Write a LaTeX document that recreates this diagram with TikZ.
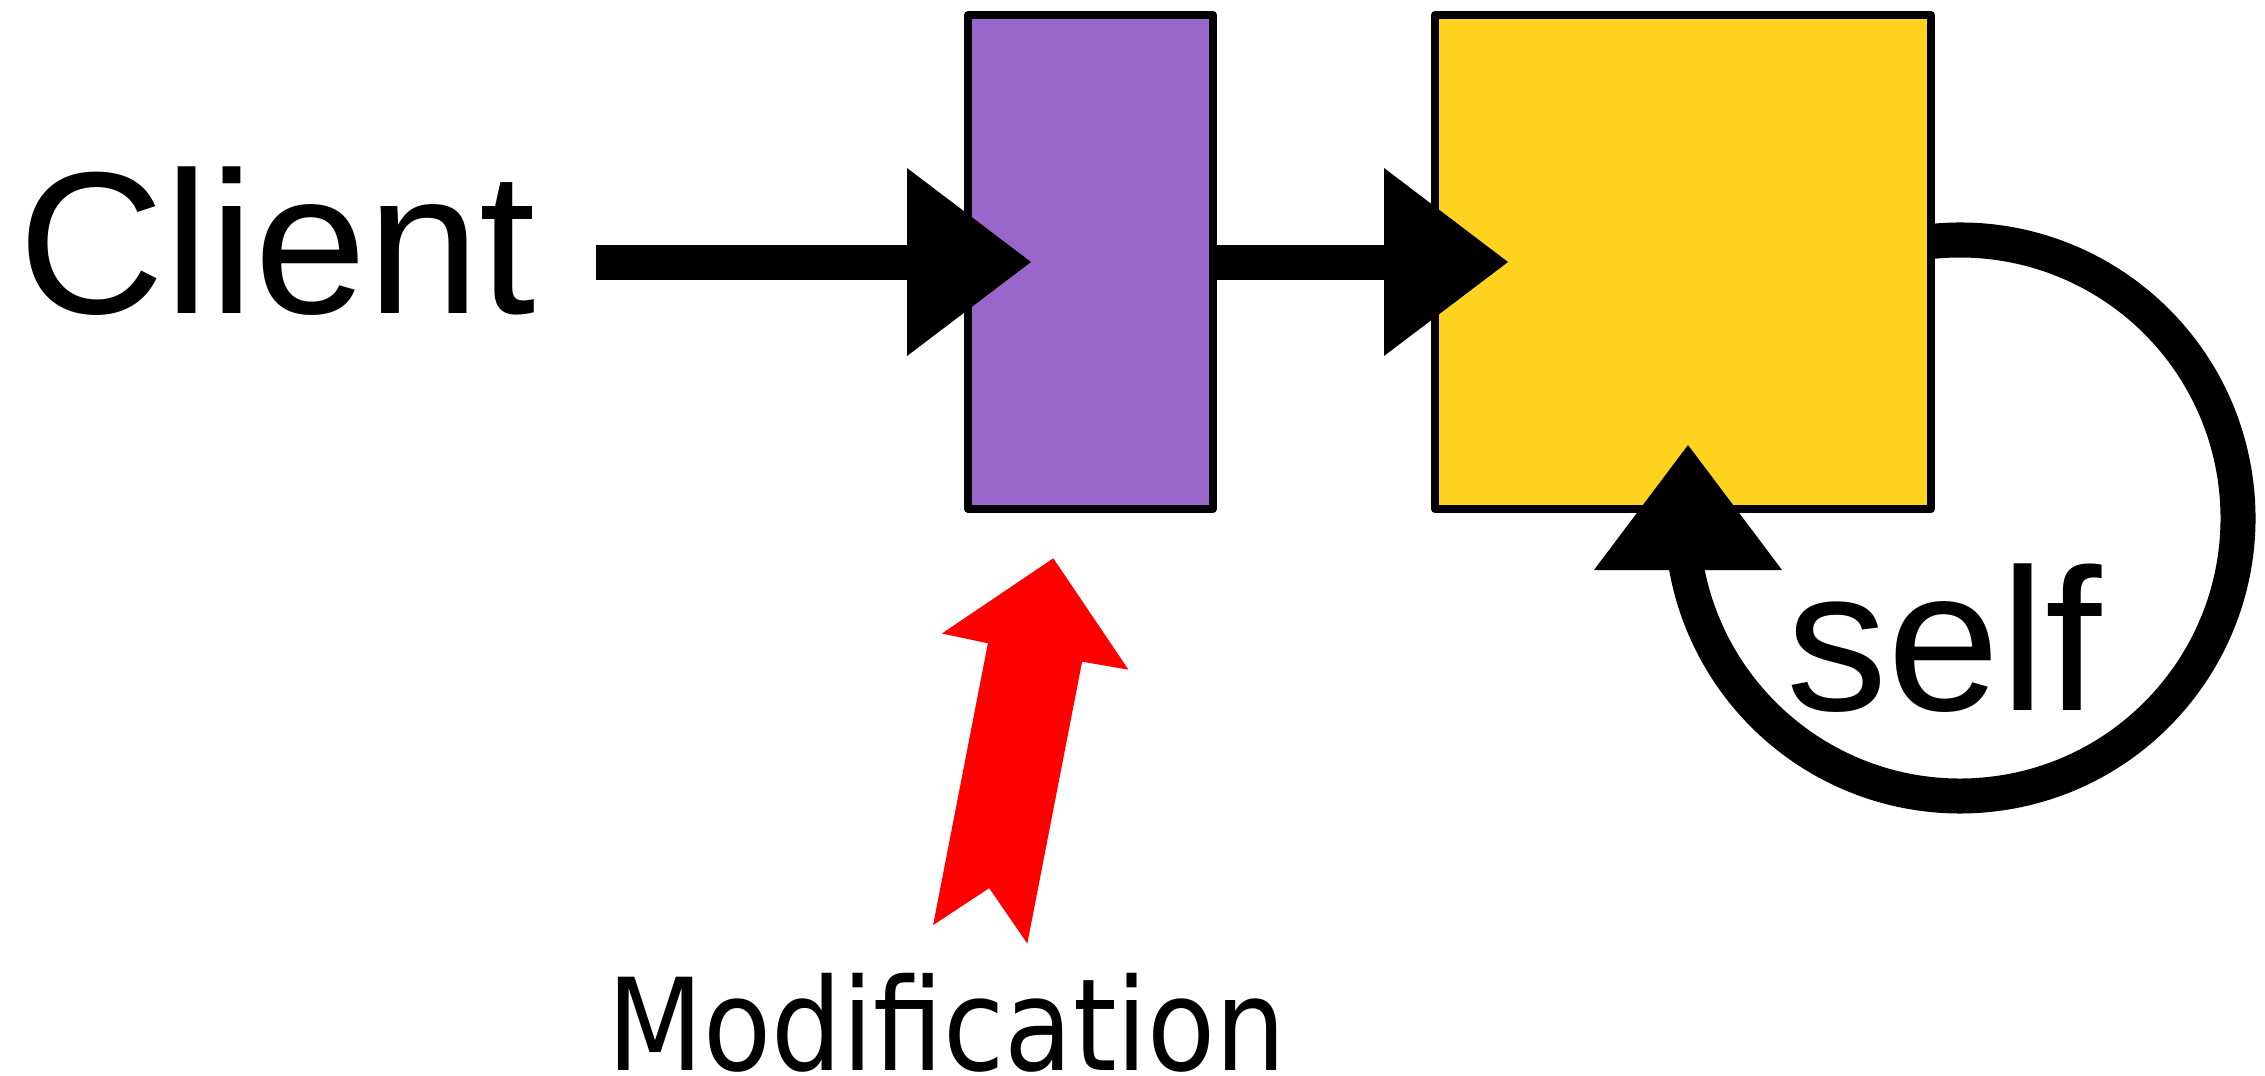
\documentclass[tikz,border=0pt]{standalone}
\usepackage{fontspec}
\setmainfont{Liberation Sans}
\newfontfamily\labelfont{DejaVu Sans}
\usetikzlibrary{arrows.meta,calc}
\definecolor{boxpurple}{RGB}{153,102,204}
\definecolor{boxyellow}{RGB}{255,211,32}
\definecolor{modred}{RGB}{255,0,0}
\begin{document}
\begin{tikzpicture}[x=0.5pt,y=-0.5pt,
  box/.style={draw=black, line width=4pt, line join=round, rectangle,
    inner sep=0pt, outer sep=0pt},
  flow/.style={line width=17.5pt,
    -{Triangle[length=62pt,width=94pt,line width=0pt]}},
  bigtext/.style={font=\fontsize{101.25pt}{110pt}\selectfont,
    inner sep=0pt, anchor=base west},
  modtext/.style={font=\labelfont\fontsize{64pt}{70pt}\selectfont,
    inner sep=0pt, anchor=base west},
]
\useasboundingbox (0,0) rectangle (2265,1076);

% self call loop as a filled ring band (radius 139pt, band 17.5pt),
% drawn first so that the yellow box and the head hide its ends
\coordinate (loopc) at (1960,518);
\fill ($(loopc)+(97:147.75pt)$) arc[start angle=97, end angle=-176, radius=147.75pt]
  -- ($(loopc)+(-176:130.25pt)$) arc[start angle=-176, end angle=97, radius=130.25pt]
  -- cycle;

% the two boxes
\node[box, fill=boxpurple, minimum width=122.5pt, minimum height=247pt] (obj) at (1090.5,262) {};
\node[box, fill=boxyellow, minimum width=248pt, minimum height=247pt] (target) at (1683,262) {};

% head of the self call
\coordinate (selftip) at (1688,445);
\fill (selftip) -- ++(-94,125) -- ++(188,0) -- cycle;
\node[bigtext] (selflabel) at (1786,710) {self};

% caller and the forwarded call
\node[bigtext] (client) at (18,313) {Client};
\coordinate (cstart) at (596,262);
\draw[flow] (cstart) -- ($(obj.west)+(63,0)$);
\draw[flow] (obj.east) -- ($(target.west)+(73,0)$);

% modification arrow
\fill[modred] (1053.3,558.3) -- (1128.5,669.7) -- (1082.1,661.7) -- (1027.3,943.5)
  -- (989.2,888.1) -- (933.1,925.1) -- (987.9,643.3) -- (941.9,633.5) -- cycle;
\node[modtext] (mod) at (607,1070) {\scalebox{0.87}[1]{Modification}};
\end{tikzpicture}
\end{document}
